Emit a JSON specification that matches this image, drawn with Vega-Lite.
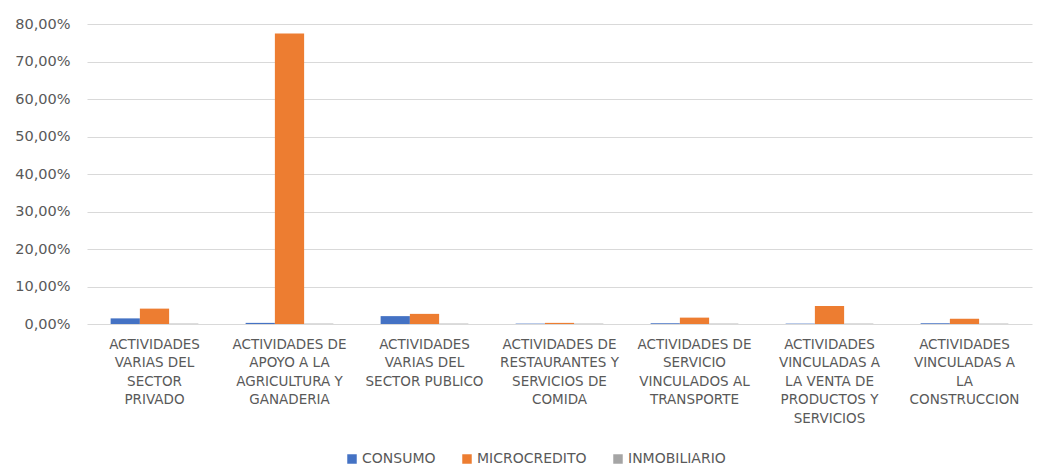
{
  "$schema": "https://vega.github.io/schema/vega-lite/v6.json",
  "width": 945,
  "height": 300,
  "autosize": {"type": "none"},
  "padding": {"left": 87, "top": 24, "right": 20, "bottom": 142},
  "background": "white",
  "data": {
    "values": [
      {"cat": "ACTIVIDADES|VARIAS DEL|SECTOR|PRIVADO", "ord": 1, "tipo": "CONSUMO", "valor": 0.015},
      {"cat": "ACTIVIDADES|VARIAS DEL|SECTOR|PRIVADO", "ord": 1, "tipo": "MICROCREDITO", "valor": 0.041},
      {"cat": "ACTIVIDADES|VARIAS DEL|SECTOR|PRIVADO", "ord": 1, "tipo": "INMOBILIARIO", "valor": 0.001},
      {"cat": "ACTIVIDADES DE|APOYO A LA|AGRICULTURA Y|GANADERIA", "ord": 2, "tipo": "CONSUMO", "valor": 0.003},
      {"cat": "ACTIVIDADES DE|APOYO A LA|AGRICULTURA Y|GANADERIA", "ord": 2, "tipo": "MICROCREDITO", "valor": 0.775},
      {"cat": "ACTIVIDADES DE|APOYO A LA|AGRICULTURA Y|GANADERIA", "ord": 2, "tipo": "INMOBILIARIO", "valor": 0.001},
      {"cat": "ACTIVIDADES|VARIAS DEL|SECTOR PUBLICO", "ord": 3, "tipo": "CONSUMO", "valor": 0.021},
      {"cat": "ACTIVIDADES|VARIAS DEL|SECTOR PUBLICO", "ord": 3, "tipo": "MICROCREDITO", "valor": 0.027},
      {"cat": "ACTIVIDADES|VARIAS DEL|SECTOR PUBLICO", "ord": 3, "tipo": "INMOBILIARIO", "valor": 0.001},
      {"cat": "ACTIVIDADES DE|RESTAURANTES Y|SERVICIOS DE|COMIDA", "ord": 4, "tipo": "CONSUMO", "valor": 0.001},
      {"cat": "ACTIVIDADES DE|RESTAURANTES Y|SERVICIOS DE|COMIDA", "ord": 4, "tipo": "MICROCREDITO", "valor": 0.003},
      {"cat": "ACTIVIDADES DE|RESTAURANTES Y|SERVICIOS DE|COMIDA", "ord": 4, "tipo": "INMOBILIARIO", "valor": 0.001},
      {"cat": "ACTIVIDADES DE|SERVICIO|VINCULADOS AL|TRANSPORTE", "ord": 5, "tipo": "CONSUMO", "valor": 0.002},
      {"cat": "ACTIVIDADES DE|SERVICIO|VINCULADOS AL|TRANSPORTE", "ord": 5, "tipo": "MICROCREDITO", "valor": 0.017},
      {"cat": "ACTIVIDADES DE|SERVICIO|VINCULADOS AL|TRANSPORTE", "ord": 5, "tipo": "INMOBILIARIO", "valor": 0.001},
      {"cat": "ACTIVIDADES|VINCULADAS A|LA VENTA DE|PRODUCTOS Y|SERVICIOS", "ord": 6, "tipo": "CONSUMO", "valor": 0.001},
      {"cat": "ACTIVIDADES|VINCULADAS A|LA VENTA DE|PRODUCTOS Y|SERVICIOS", "ord": 6, "tipo": "MICROCREDITO", "valor": 0.048},
      {"cat": "ACTIVIDADES|VINCULADAS A|LA VENTA DE|PRODUCTOS Y|SERVICIOS", "ord": 6, "tipo": "INMOBILIARIO", "valor": 0.001},
      {"cat": "ACTIVIDADES|VINCULADAS A|LA|CONSTRUCCION", "ord": 7, "tipo": "CONSUMO", "valor": 0.002},
      {"cat": "ACTIVIDADES|VINCULADAS A|LA|CONSTRUCCION", "ord": 7, "tipo": "MICROCREDITO", "valor": 0.014},
      {"cat": "ACTIVIDADES|VINCULADAS A|LA|CONSTRUCCION", "ord": 7, "tipo": "INMOBILIARIO", "valor": 0.001}
    ]
  },
  "mark": {"type": "bar", "strokeWidth": 0},
  "encoding": {
    "x": {
      "field": "cat",
      "type": "nominal",
      "sort": {"field": "ord"},
      "scale": {"paddingInner": 0.35, "paddingOuter": 0.175},
      "axis": {
        "title": null,
        "labelAngle": 0,
        "labelExpr": "split(datum.label, '|')",
        "labelFont": "DejaVu Sans",
        "labelFontSize": 13.5,
        "labelColor": "#595959",
        "labelLineHeight": 18.5,
        "labelPadding": 13,
        "labelBaseline": "top",
        "domain": false,
        "ticks": false,
        "labelLimit": 200
      }
    },
    "xOffset": {
      "field": "tipo",
      "type": "nominal",
      "sort": ["CONSUMO", "MICROCREDITO", "INMOBILIARIO"],
      "scale": {"paddingInner": 0, "paddingOuter": 0}
    },
    "y": {
      "field": "valor",
      "type": "quantitative",
      "scale": {"domain": [0, 0.8], "nice": false},
      "axis": {
        "title": null,
        "values": [0, 0.1, 0.2, 0.3, 0.4, 0.5, 0.6, 0.7, 0.8],
        "labelExpr": "replace(format(datum.value, '.2%'), '.', ',')",
        "labelFont": "DejaVu Sans",
        "labelFontSize": 14.5,
        "labelColor": "#595959",
        "labelPadding": 17,
        "domain": false,
        "ticks": false,
        "grid": true,
        "gridColor": "#D9D9D9",
        "gridWidth": 1
      }
    },
    "color": {
      "field": "tipo",
      "type": "nominal",
      "sort": ["CONSUMO", "MICROCREDITO", "INMOBILIARIO"],
      "scale": {"domain": ["CONSUMO", "MICROCREDITO", "INMOBILIARIO"], "range": ["#4472C4", "#ED7D31", "#A5A5A5"]},
      "legend": {
        "title": null,
        "orient": "none",
        "direction": "horizontal",
        "legendX": 258,
        "legendY": 428,
        "symbolType": "square",
        "symbolSize": 90,
        "symbolStrokeWidth": 0,
        "labelFont": "DejaVu Sans",
        "labelFontSize": 14,
        "labelColor": "#595959",
        "labelOffset": 3,
        "columnPadding": 24
      }
    }
  },
  "config": {"view": {"stroke": null}}
}
